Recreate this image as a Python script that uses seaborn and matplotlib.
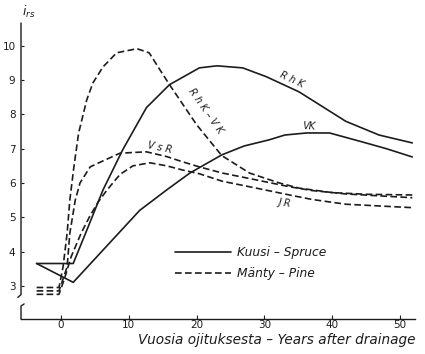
import numpy as np
import pandas as pd
import matplotlib
matplotlib.use("Agg")
import matplotlib.pyplot as plt
import seaborn as sns
from matplotlib.transforms import blended_transform_factory

# ---------------- data ----------------
rhk_x = [-3.6, 1.8, 3.8, 6.2, 9.1, 12.6, 16.0, 20.4, 23.0, 26.8, 30.3, 35.1, 42.0, 46.9, 51.8]
rhk_y = [3.65, 3.65, 4.62, 5.8, 6.97, 8.2, 8.87, 9.36, 9.42, 9.36, 9.1, 8.66, 7.8, 7.4, 7.17]

vk_x = [-3.6, 1.8, 11.6, 15.6, 19.0, 23.7, 27.0, 30.7, 33.0, 36.2, 39.6, 44.4, 48.0, 51.8]
vk_y = [3.65, 3.1, 5.2, 5.8, 6.29, 6.82, 7.08, 7.26, 7.4, 7.46, 7.46, 7.2, 7.0, 6.76]

rhkvk_x = [-3.6, -0.3, 0.3, 0.9, 1.3, 1.9, 2.6, 3.8, 4.7, 6.2, 8.2, 11.2, 13.0, 14.6, 16.0,
           20.0, 23.7, 27.8, 32.2, 35.1, 40.0, 45.0, 51.8]
rhkvk_y = [2.95, 2.95, 3.55, 4.53, 5.5, 6.47, 7.46, 8.43, 8.92, 9.39, 9.8, 9.92, 9.8, 9.3, 8.87,
           7.7, 6.8, 6.29, 6.0, 5.85, 5.72, 5.67, 5.65]

vsr_x = [-3.6, -0.3, 0.3, 0.9, 1.3, 2.1, 2.8, 4.3, 5.7, 8.7, 12.6, 15.6, 17.9, 20.4, 23.8,
         28.8, 33.7, 37.0, 42.0, 51.8]
vsr_y = [2.85, 2.85, 3.2, 3.55, 4.53, 5.5, 6.0, 6.47, 6.6, 6.87, 6.91, 6.77, 6.62, 6.47, 6.29,
         6.09, 5.89, 5.78, 5.68, 5.57]

jr_x = [-3.6, -0.3, 0.5, 1.5, 3.0, 4.3, 5.5, 6.8, 8.7, 10.6, 13.1, 15.6, 17.9, 20.4, 23.8,
        28.8, 33.7, 37.0, 42.0, 51.8]
jr_y = [2.75, 2.75, 3.2, 3.85, 4.55, 5.05, 5.45, 5.8, 6.25, 6.5, 6.59, 6.5, 6.38, 6.27, 6.05,
        5.85, 5.65, 5.52, 5.38, 5.28]

spruce = "Kuusi – Spruce"
pine = "Mänty – Pine"

curves = {
    "RhK": (rhk_x, rhk_y, spruce),
    "VK": (vk_x, vk_y, spruce),
    "RhK-VK": (rhkvk_x, rhkvk_y, pine),
    "VsR": (vsr_x, vsr_y, pine),
    "JR": (jr_x, jr_y, pine),
}

x_ticks = [0, 10, 20, 30, 40, 50]
y_ticks = [3, 4, 5, 6, 7, 8, 9, 10]

rows = []
for name, (xs, ys, sp) in curves.items():
    for xv, yv in zip(xs, ys):
        rows.append({"year": xv, "irs": yv, "curve": name, "species": sp})
df = pd.DataFrame(rows)

# ---------------- figure ----------------
sns.set_theme(style="white")
plt.rcParams["font.family"] = ["DejaVu Sans"]
ink = "#1c1c1c"

fig = plt.figure(figsize=(4.25, 3.54), dpi=100)
ax = fig.add_axes([21 / 425, 1 - 319 / 354, (415 - 21) / 425, (319 - 23) / 354])

sns.lineplot(data=df, x="year", y="irs", units="curve", style="species",
             estimator=None, sort=False, color=ink, linewidth=1.2,
             dashes={spruce: "", pine: (4, 2)}, style_order=[spruce, pine], ax=ax)

ax.set_xlim(-5.9, 52.2)
ax.set_ylim(2.03, 10.67)
ax.set_xticks(x_ticks)
ax.set_yticks(y_ticks)
ax.set_xlabel("")
ax.set_ylabel("")
ax.tick_params(axis="x", direction="in", length=3, width=0.8, pad=1,
               labelsize=7.5, colors=ink, bottom=True)
ax.tick_params(axis="y", direction="in", length=2.5, width=0.8, pad=4,
               labelsize=7.5, colors=ink, left=True)

for s in ["top", "right", "left"]:
    ax.spines[s].set_visible(False)
ax.spines["bottom"].set_color(ink)
ax.spines["bottom"].set_linewidth(1.0)

# broken y axis
tr = blended_transform_factory(ax.transAxes, ax.transData)
ax.plot([0, 0, -0.008], [10.67, 2.74, 2.66], color=ink, lw=1.0, transform=tr, clip_on=False)
ax.plot([0.008, 0, 0], [2.47, 2.41, 2.03], color=ink, lw=1.0, transform=tr, clip_on=False)

# curve labels
lab = dict(color=ink, fontsize=7, style="italic", ha="center", va="center")
ax.text(34.0, 9.01, "R h K", rotation=-25, **lab)
ax.text(36.6, 7.66, "VK", rotation=-3, **lab)
ax.text(21.3, 8.1, "R h K – V K", rotation=-55, **lab)
ax.text(14.6, 7.04, "V s R", rotation=-12, **lab)
ax.text(33.0, 5.42, "J R", rotation=-8, **lab)

# legend
h, l = ax.get_legend_handles_labels()
keep = [(hh, ll) for hh, ll in zip(h, l) if ll in (spruce, pine)]
ax.legend([k[0] for k in keep], [k[1] for k in keep], loc="upper left",
          bbox_to_anchor=(0.391, 0.245), frameon=False, borderpad=0, borderaxespad=0,
          handlelength=4.6, handletextpad=0.5, labelspacing=0.6,
          prop={"size": 8.8, "style": "italic"}, labelcolor=ink)

fig.text(22 / 425, 1 - 12 / 354, r"$i_{rs}$", fontsize=9, color=ink, ha="left", va="center")
fig.text(415 / 425, 1 - 340 / 354, "Vuosia ojituksesta – Years after drainage",
         fontsize=9.8, style="italic", color=ink, ha="right", va="center")

fig.savefig("out.png", dpi=100, facecolor="white")
